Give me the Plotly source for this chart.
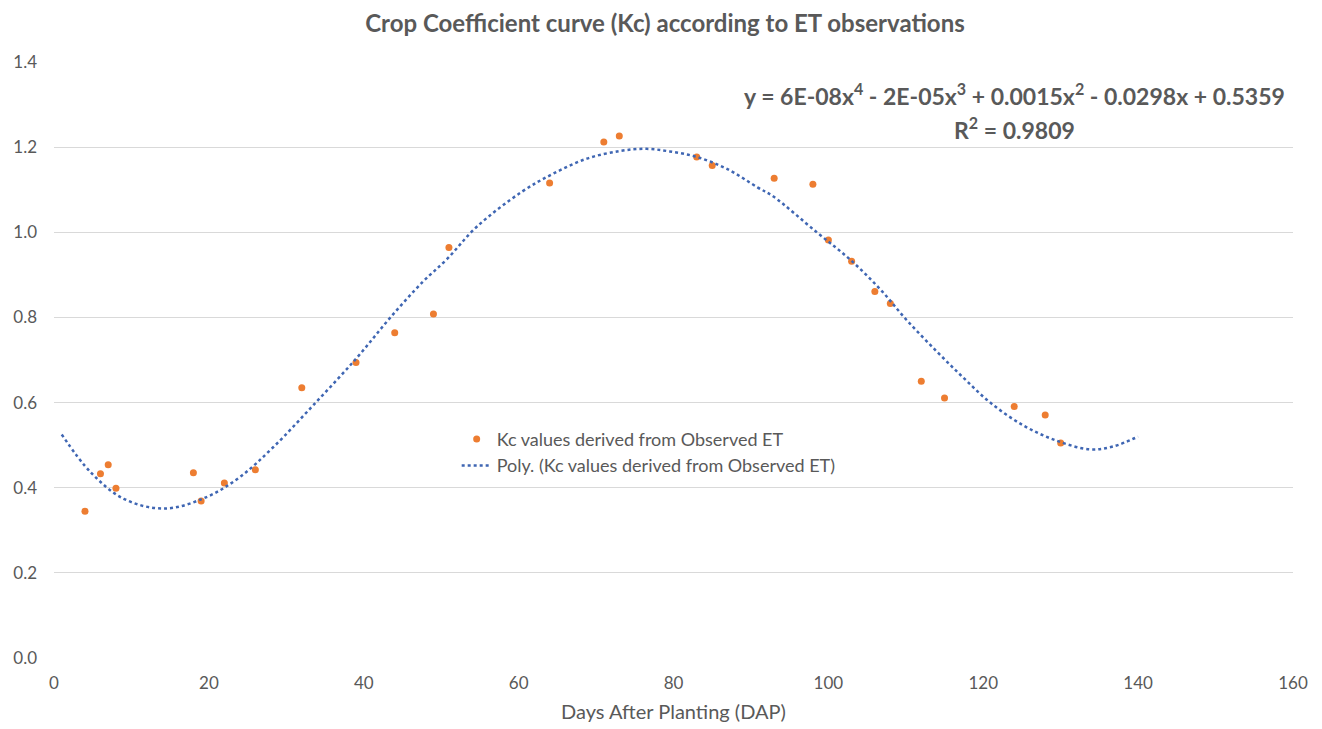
import plotly.graph_objects as go

ORANGE = "#ED7D31"
BLUE = "#3F66B3"
GRAY = "#595959"
FONT = "Lato, 'Open Sans', sans-serif"

# observed Kc values
dap = [4, 6, 7, 8, 18, 19, 22, 26, 32, 39, 44, 49, 51, 64, 71, 73, 83, 85,
       93, 98, 100, 103, 106, 108, 112, 115, 124, 128, 130]
kc = [0.345, 0.433, 0.454, 0.399, 0.435, 0.369, 0.411, 0.442, 0.635, 0.694,
      0.764, 0.808, 0.964, 1.116, 1.212, 1.226, 1.177, 1.157, 1.127, 1.113,
      0.982, 0.932, 0.861, 0.833, 0.650, 0.611, 0.591, 0.571, 0.505]

# polynomial trendline
trend_x = [1, 4.7, 9, 14.3, 19.7, 24, 28.3, 33.8, 39.1, 43.4, 47.7, 50.7, 54.6,
           60.4, 64.5, 68.8, 73.1, 76.5, 79.5, 83, 86.9, 90.9, 92.9, 98.5,
           102.8, 106.7, 110.1, 114, 117.4, 120.9, 125.2, 129.4, 133.8,
           136.8, 140]
trend_y = [0.525, 0.437, 0.374, 0.351, 0.378, 0.425, 0.495, 0.600, 0.705,
           0.799, 0.885, 0.936, 1.013, 1.095, 1.138, 1.173, 1.191, 1.196,
           1.190, 1.177, 1.149, 1.105, 1.084, 1.0, 0.936, 0.866, 0.794, 0.720,
           0.659, 0.600, 0.546, 0.511, 0.490, 0.497, 0.520]

x_ticks = [0, 20, 40, 60, 80, 100, 120, 140, 160]
y_ticks = [0.0, 0.2, 0.4, 0.6, 0.8, 1.0, 1.2, 1.4]

fig = go.Figure()

fig.add_trace(
    go.Scatter(
        x=dap,
        y=kc,
        mode="markers",
        name="Kc values derived from Observed ET",
        marker=dict(size=7, color=ORANGE),
    )
)
fig.add_trace(
    go.Scatter(
        x=trend_x,
        y=trend_y,
        mode="lines",
        line_shape="spline",
        name="Poly. (Kc values derived from Observed ET)",
        line=dict(width=2.5, color=BLUE, dash="dot"),
    )
)

# trendline equation, two centred lines
fig.add_annotation(
    text="<b>y = 6E-08x<sup>4</sup> - 2E-05x<sup>3</sup> + 0.0015x<sup>2</sup> - 0.0298x + 0.5359</b>",
    xref="paper", yref="paper", x=0.7756, y=0.945,
    xanchor="center", yanchor="middle",
    showarrow=False, font=dict(size=23, color=GRAY),
)
fig.add_annotation(
    text="<b>R<sup>2</sup> = 0.9809</b>",
    xref="paper", yref="paper", x=0.7756, y=0.889,
    xanchor="center", yanchor="middle",
    showarrow=False, font=dict(size=23, color=GRAY),
)

# page has an 8px body margin, so the figure is 8px smaller
fig.update_layout(
    width=1314,
    height=721,
    margin=dict(l=46, r=29, t=54, b=71, autoexpand=False),
    paper_bgcolor="white",
    plot_bgcolor="white",
    font=dict(family=FONT, color=GRAY, size=16),
    title=dict(
        text="<b>Crop Coefficient curve (Kc) according to ET observations</b>",
        x=0.5, xanchor="center", yref="container", y=0.978, yanchor="middle",
        font=dict(size=24, color=GRAY),
    ),
    legend=dict(
        x=0.325, y=0.398, xanchor="left", yanchor="top",
        bgcolor="rgba(0,0,0,0)", font=dict(size=18, color=GRAY),
        tracegroupgap=0,
    ),
    xaxis=dict(
        range=[0, 160], tickvals=x_ticks, showgrid=False, zeroline=False,
        showline=False, ticks="", ticklabelstandoff=13,
        title=dict(text="Days After Planting (DAP)", font=dict(size=20, color=GRAY), standoff=12),
        tickfont=dict(size=17, color=GRAY),
    ),
    yaxis=dict(
        range=[0, 1.4], tickvals=y_ticks, tickformat=".1f",
        showgrid=True, gridcolor="#d9d9d9", gridwidth=1, zeroline=False,
        showline=False, ticks="", ticklabelstandoff=16,
        tickfont=dict(size=17, color=GRAY),
    ),
)

fig.write_html("out.html")
